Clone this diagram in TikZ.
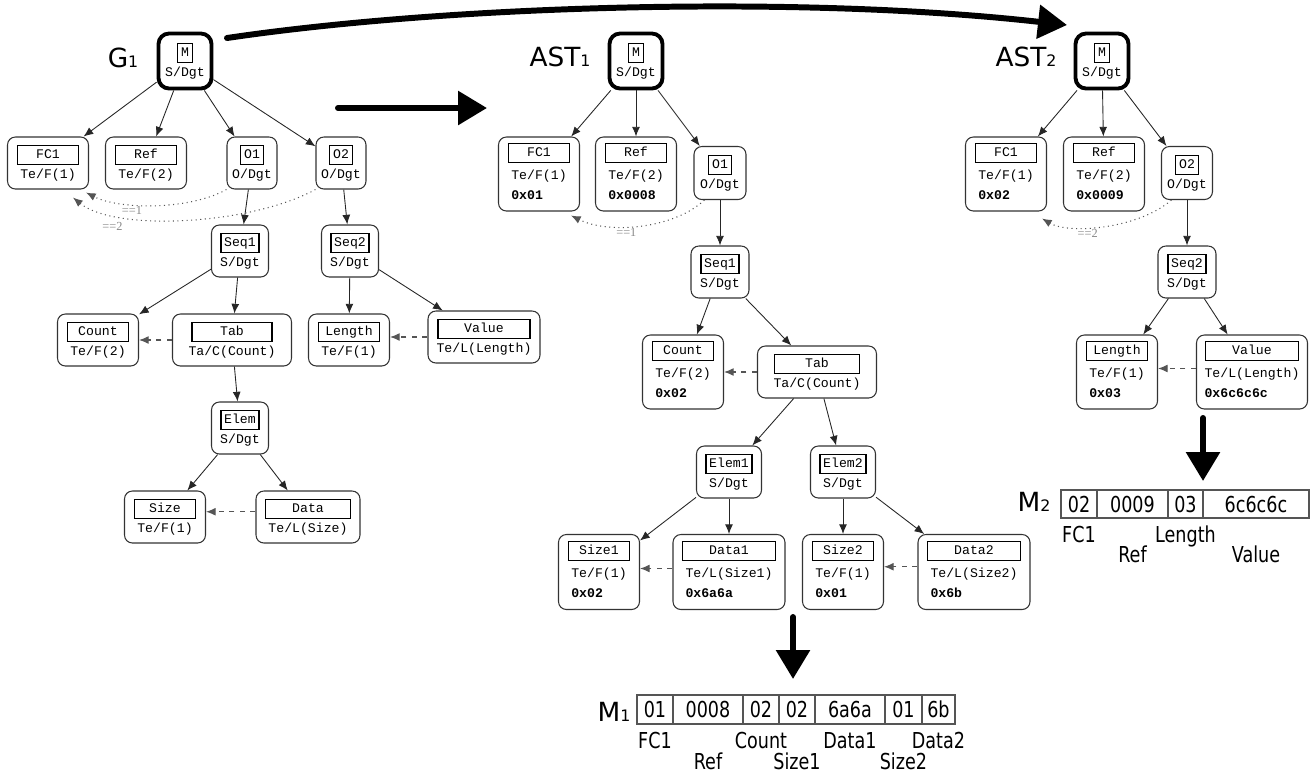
\documentclass[tikz,border=0pt]{standalone}
\usepackage{fontspec}
\setmonofont{Liberation Mono}
\newfontfamily\labelfont{DejaVu Sans}
\newfontfamily\barfont[FakeStretch=0.8]{DejaVu Sans}
\newfontfamily\condfont{Liberation Serif}
\usepackage{xcolor}
\usepackage{tikz}
\usetikzlibrary{arrows.meta,positioning}

\setlength{\fboxsep}{1.5pt}
\setlength{\fboxrule}{0.8pt}
\newcommand{\fieldbox}[2]{\fbox{\makebox[#1]{\rule[-1.5pt]{0pt}{7pt}#2}}}
\newcommand{\namebox}[1]{\fbox{\rule[-1.5pt]{0pt}{7pt}#1}}
\newcommand{\valuelines}[2]{\begin{tabular}{@{}l@{}}#1\\\textbf{#2}\end{tabular}}
\newcommand{\idx}[1]{{\fontsize{9}{9}\selectfont#1}}

\definecolor{linkgray}{HTML}{555555}
\definecolor{condgray}{HTML}{888888}
\definecolor{cellgray}{HTML}{555555}

\tikzset{
	tree/.style={draw=black!80, line width=0.6pt, rounded corners=4.5pt, align=center,
		inner sep=1pt, font=\ttfamily\fontsize{7.5}{11.5}\selectfont, minimum height=1.04cm},
	tenode/.style={tree, minimum width=1.62cm},
	valnode/.style={tenode, minimum height=1.48cm},
	onode/.style={tree, minimum width=1cm},
	snode/.style={tree, minimum width=1.14cm},
	rootnode/.style={tree, draw=black, line width=2.2pt, rounded corners=6pt,
		minimum width=1.06cm, minimum height=1.1cm},
	edgearrow/.style={-{Latex[length=5.5pt,width=4.5pt]}, line width=0.5pt, black!85},
	lenref/.style={-{Latex[length=5.5pt,width=4.5pt]}, dashed, line width=0.6pt, linkgray},
	condarrow/.style={-{Latex[length=5.5pt,width=4.5pt]}, dotted, line width=0.6pt, linkgray},
	condlabel/.style={font=\condfont\fontsize{7}{7}\selectfont, text=condgray, inner sep=1pt},
	treetitle/.style={font=\labelfont\fontsize{15}{15}\selectfont, inner sep=0pt},
	bigarrow/.style={line width=3.4pt, line cap=round, -{Triangle[length=0.58cm,width=0.66cm]}},
	bytecell/.style={draw=cellgray, line width=1.1pt, fill=white, inner sep=0pt, outer sep=0pt,
		minimum height=0.58cm, font=\barfont\fontsize{12.5}{12.5}\selectfont},
	barframe/.style={draw=cellgray, line width=1.6pt},
	bytelabel/.style={font=\barfont\fontsize{12.5}{12.5}\selectfont, inner sep=0pt, anchor=base},
}

\begin{document}
\begin{tikzpicture}[x=0.02cm, y=-0.02cm]
		\useasboundingbox (0,0) rectangle (1315,772);
		% Picture nodes
		%% G1 tree
		\node[treetitle] (gTitle) at (123,58) {G\idx{1}};
		\node[rootnode] (gM) at (185,61) {\namebox{M}\\S/Dgt};
		\node[tenode] (gFC1) at (48,163) {\fieldbox{1.08cm}{FC1}\\Te/F(1)};
		\node[tenode] (gRef) at (146,163) {\fieldbox{1.08cm}{Ref}\\Te/F(2)};
		\node[onode] (gO1) at (252,163) {\namebox{O1}\\O/Dgt};
		\node[onode] (gO2) at (341,163) {\namebox{O2}\\O/Dgt};
		\node[snode] (gSeq1) at (240,251) {\namebox{Seq1}\\S/Dgt};
		\node[snode] (gSeq2) at (350,251) {\namebox{Seq2}\\S/Dgt};
		\node[tenode] (gCount) at (98,340) {\fieldbox{1.08cm}{Count}\\Te/F(2)};
		\node[tenode, minimum width=2.38cm] (gTab) at (232,340) {\fieldbox{1.46cm}{Tab}\\Ta/C(Count)};
		\node[tenode] (gLength) at (349,340) {\fieldbox{1.08cm}{Length}\\Te/F(1)};
		\node[tenode, minimum width=2.24cm] (gValue) at (484,337) {\fieldbox{1.70cm}{Value}\\Te/L(Length)};
		\node[snode] (gElem) at (240,428) {\namebox{Elem}\\S/Dgt};
		\node[tenode] (gSize) at (165,517) {\fieldbox{1.08cm}{Size}\\Te/F(1)};
		\node[tenode, minimum width=2.08cm] (gData) at (308,517) {\fieldbox{1.56cm}{Data}\\Te/L(Size)};
		%% AST1 tree
		\node[treetitle] (aTitle) at (560,57) {AST\idx{1}};
		\node[rootnode] (aM) at (636,61) {\namebox{M}\\S/Dgt};
		\node[valnode] (aFC1) at (539,174) {\fieldbox{1.08cm}{FC1}\\\valuelines{Te/F(1)}{0x01}};
		\node[valnode] (aRef) at (636,174) {\fieldbox{1.08cm}{Ref}\\\valuelines{Te/F(2)}{0x0008}};
		\node[onode, minimum width=1.04cm, minimum height=1.06cm] (aO1) at (720,173) {\namebox{O1}\\O/Dgt};
		\node[snode, minimum width=1.16cm] (aSeq1) at (720,272) {\namebox{Seq1}\\S/Dgt};
		\node[valnode] (aCount) at (683,372) {\fieldbox{1.08cm}{Count}\\\valuelines{Te/F(2)}{0x02}};
		\node[tenode, minimum width=2.38cm] (aTab) at (817,372) {\fieldbox{1.56cm}{Tab}\\Ta/C(Count)};
		\node[snode, minimum width=1.3cm] (aElem1) at (729,472) {\namebox{Elem1}\\S/Dgt};
		\node[snode, minimum width=1.3cm] (aElem2) at (843,472) {\namebox{Elem2}\\S/Dgt};
		\node[valnode, minimum height=1.5cm] (aSize1) at (599,572) {\fieldbox{1.08cm}{Size1}\\\valuelines{Te/F(1)}{0x02}};
		\node[valnode, minimum width=2.24cm, minimum height=1.5cm] (aData1) at (729,572) {\fieldbox{1.72cm}{Data1}\\\valuelines{Te/L(Size1)}{0x6a6a}};
		\node[valnode, minimum height=1.5cm] (aSize2) at (843,572) {\fieldbox{1.08cm}{Size2}\\\valuelines{Te/F(1)}{0x01}};
		\node[valnode, minimum width=2.24cm, minimum height=1.5cm] (aData2) at (974,572) {\fieldbox{1.72cm}{Data2}\\\valuelines{Te/L(Size2)}{0x6b}};
		%% AST2 tree
		\node[treetitle] (bTitle) at (1026,57) {AST\idx{2}};
		\node[rootnode] (bM) at (1102,61) {\namebox{M}\\S/Dgt};
		\node[valnode] (bFC1) at (1006,174) {\fieldbox{1.08cm}{FC1}\\\valuelines{Te/F(1)}{0x02}};
		\node[valnode] (bRef) at (1104,174) {\fieldbox{1.08cm}{Ref}\\\valuelines{Te/F(2)}{0x0009}};
		\node[onode, minimum width=1.02cm, minimum height=1.06cm] (bO2) at (1187,173) {\namebox{O2}\\O/Dgt};
		\node[snode, minimum width=1.16cm] (bSeq2) at (1187,272) {\namebox{Seq2}\\S/Dgt};
		\node[valnode] (bLength) at (1117,372) {\fieldbox{1.08cm}{Length}\\\valuelines{Te/F(1)}{0x03}};
		\node[valnode, minimum width=2.22cm] (bValue) at (1252,372) {\fieldbox{1.72cm}{Value}\\\valuelines{Te/L(Length)}{0x6c6c6c}};
		%% M1 bytes
		\node[treetitle] (m1Title) at (614,712) {M\idx{1}};
		\node[bytecell, minimum width=0.72cm, anchor=west] (m1c1) at (637,709.5) {01};
		\node[bytecell, minimum width=1.40cm, right=0pt of m1c1] (m1c2) {0008};
		\node[bytecell, minimum width=0.72cm, right=0pt of m1c2] (m1c3) {02};
		\node[bytecell, minimum width=0.72cm, right=0pt of m1c3] (m1c4) {02};
		\node[bytecell, minimum width=1.40cm, right=0pt of m1c4] (m1c5) {6a6a};
		\node[bytecell, minimum width=0.74cm, right=0pt of m1c5] (m1c6) {01};
		\node[bytecell, minimum width=0.66cm, right=0pt of m1c6] (m1c7) {6b};
		\draw[barframe] (m1c1.north west) rectangle (m1c7.south east);
		\node[bytelabel] (m1FC1) at ([yshift=-0.77cm]m1c1.center) {FC1};
		\node[bytelabel] (m1Ref) at ([yshift=-1.19cm]m1c2.center) {Ref};
		\node[bytelabel] (m1Count) at ([yshift=-0.77cm]m1c3.center) {Count};
		\node[bytelabel] (m1Size1) at ([yshift=-1.19cm]m1c4.center) {Size1};
		\node[bytelabel] (m1Data1) at ([yshift=-0.77cm]m1c5.center) {Data1};
		\node[bytelabel] (m1Size2) at ([yshift=-1.19cm]m1c6.center) {Size2};
		\node[bytelabel] (m1Data2) at ([yshift=-0.77cm]m1c7.center) {Data2};
		%% M2 bytes
		\node[treetitle] (m2Title) at (1034,502) {M\idx{2}};
		\node[bytecell, minimum width=0.72cm, minimum height=0.56cm, anchor=west] (m2c1) at (1061,504) {02};
		\node[bytecell, minimum width=1.42cm, minimum height=0.56cm, right=0pt of m2c1] (m2c2) {0009};
		\node[bytecell, minimum width=0.70cm, minimum height=0.56cm, right=0pt of m2c2] (m2c3) {03};
		\node[bytecell, minimum width=2.12cm, minimum height=0.56cm, right=0pt of m2c3] (m2c4) {6c6c6c};
		\draw[barframe] (m2c1.north west) rectangle (m2c4.south east);
		\node[bytelabel] (m2FC1) at ([yshift=-0.76cm]m2c1.center) {FC1};
		\node[bytelabel] (m2Ref) at ([yshift=-1.16cm]m2c2.center) {Ref};
		\node[bytelabel] (m2Length) at ([yshift=-0.76cm]m2c3.center) {Length};
		\node[bytelabel] (m2Value) at ([yshift=-1.16cm]m2c4.center) {Value};
		%% Big arrow ends
		\coordinate (arcS) at (227,38);
		\coordinate (arcE) at (1067,25);
		\coordinate (stepS) at (338,108);
		\coordinate (stepE) at (487,108);
		\coordinate (m1S) at (793,617);
		\coordinate (m1E) at (793,679);
		\coordinate (m2S) at (1203,418);
		\coordinate (m2E) at (1203,481);
		% Picture arcs
		%% G1 edges
		\draw[edgearrow] (gM) -- (gFC1);
		\draw[edgearrow] (gM) -- (gRef);
		\draw[edgearrow] (gM) -- (gO1);
		\draw[edgearrow] (gM) -- (gO2);
		\draw[edgearrow] (gO1) -- (gSeq1);
		\draw[edgearrow] (gO2) -- (gSeq2);
		\draw[edgearrow] (gSeq1) -- (gCount);
		\draw[edgearrow] (gSeq1) -- (gTab);
		\draw[edgearrow] (gSeq2) -- (gLength);
		\draw[edgearrow] (gSeq2) -- (gValue);
		\draw[edgearrow] (gTab) -- (gElem);
		\draw[edgearrow] (gElem) -- (gSize);
		\draw[edgearrow] (gElem) -- (gData);
		\draw[lenref] (gTab.west) -- (gCount.east);
		\draw[lenref] (gValue.west) -- (gValue.west -| gLength.east);
		\draw[lenref] ([yshift=3pt]gData.west) -- ([yshift=3pt]gSize.east);
		\draw[condarrow] (gO1.south west) .. controls (190,210) and (120,210) .. node[condlabel, pos=0.65, below] (gC1) {==1} ([shift={(-3,3)}]gFC1.south east);
		\draw[condarrow] (gO2.south west) .. controls (250,225) and (115,232) .. node[condlabel, pos=0.78, below=3pt] (gC2) {==2} ([shift={(-16,8)}]gFC1.south east);
		%% AST1 edges
		\draw[edgearrow] (aM) -- (aFC1);
		\draw[edgearrow] (aM) -- (aRef);
		\draw[edgearrow] (aM) -- (aO1);
		\draw[edgearrow] (aO1) -- (aSeq1);
		\draw[edgearrow] (aSeq1) -- (aCount);
		\draw[edgearrow] (aSeq1) -- (aTab);
		\draw[edgearrow] (aTab) -- (aElem1);
		\draw[edgearrow] (aTab) -- (aElem2);
		\draw[edgearrow] (aElem1) -- (aSize1);
		\draw[edgearrow] (aElem1) -- (aData1);
		\draw[edgearrow] (aElem2) -- (aSize2);
		\draw[edgearrow] (aElem2) -- (aData2);
		\draw[lenref] (aTab.west) -- (aCount.east);
		\draw[lenref] ([yshift=2pt]aData1.west) -- ([yshift=2pt]aSize1.east);
		\draw[lenref] ([yshift=3pt]aData2.west) -- ([yshift=3pt]aSize2.east);
		\draw[condarrow] (aO1.-120) .. controls (675,228) and (610,235) .. node[condlabel, pos=0.6, below] (aC1) {==1} ([shift={(-9,4)}]aFC1.south east);
		%% AST2 edges
		\draw[edgearrow] (bM) -- (bFC1);
		\draw[edgearrow] (bM) -- (bRef);
		\draw[edgearrow] (bM) -- (bO2);
		\draw[edgearrow] (bO2) -- (bSeq2);
		\draw[edgearrow] (bSeq2) -- (bLength);
		\draw[edgearrow] (bSeq2) -- (bValue);
		\draw[lenref] ([yshift=2pt]bValue.west) -- ([yshift=2pt]bLength.east);
		\draw[condarrow] (bO2.-120) .. controls (1140,228) and (1070,235) .. node[condlabel, pos=0.62, below] (bC2) {==2} ([shift={(-5,7)}]bFC1.south east);
		%% Big arrows
		\draw[bigarrow] (arcS) .. controls (450,5) and (800,-5) .. (arcE);
		\draw[bigarrow] (stepS) -- (stepE);
		\draw[bigarrow] (m1S) -- (m1E);
		\draw[bigarrow] (m2S) -- (m2E);
	\end{tikzpicture}
\end{document}
